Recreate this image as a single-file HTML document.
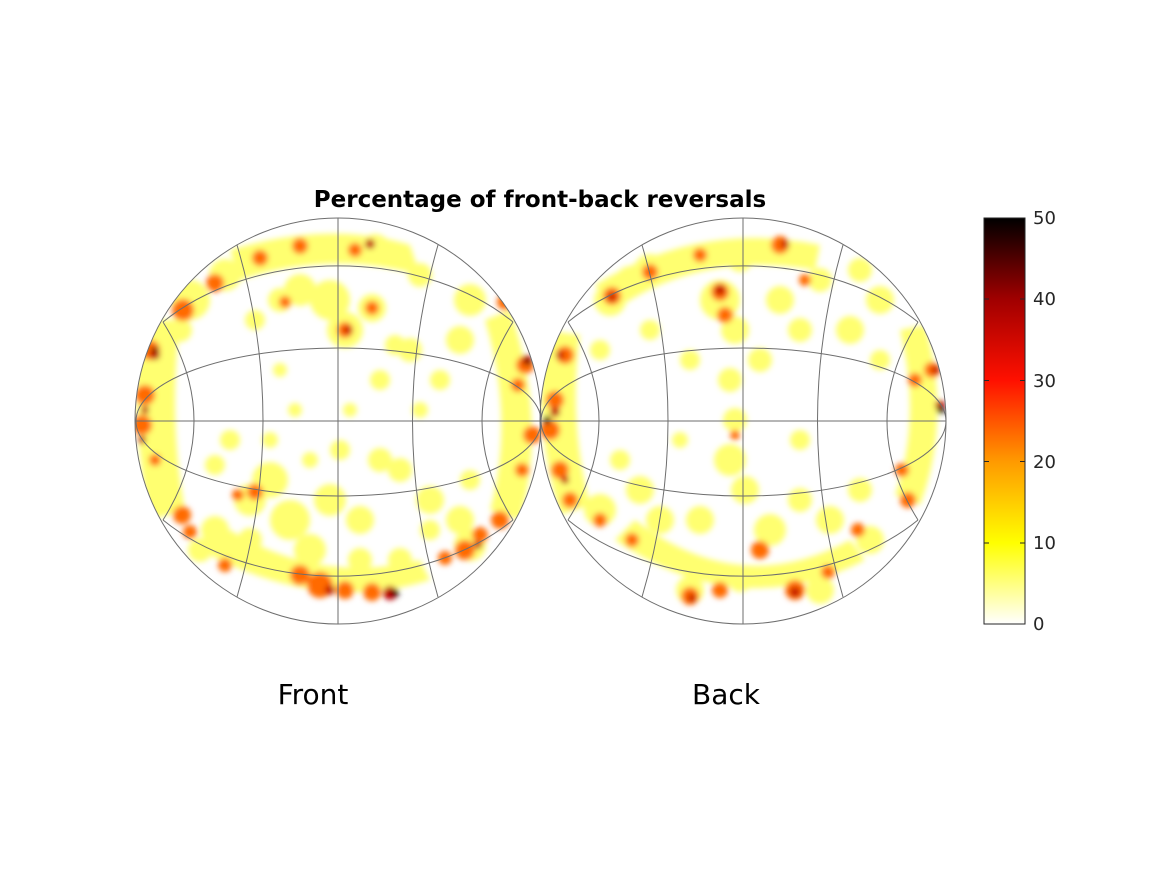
<!DOCTYPE html>
<html><head><style>
html,body{margin:0;padding:0;background:#fff;}
svg{display:block;font-family:"DejaVu Sans","Liberation Sans",sans-serif;}
</style></head><body>
<svg width="1167" height="875" viewBox="0 0 1167 875">
<defs>
<filter id="b" x="-20%" y="-20%" width="140%" height="140%"><feGaussianBlur stdDeviation="3"/></filter>
<clipPath id="cl"><circle cx="338" cy="421" r="203"/></clipPath>
<clipPath id="cr"><circle cx="743" cy="421" r="203"/></clipPath>
<linearGradient id="hot" x1="0" y1="1" x2="0" y2="0">
<stop offset="0" stop-color="#ffffff"/><stop offset="0.2" stop-color="#ffff00"/>
<stop offset="0.4" stop-color="#ff9a00"/><stop offset="0.6" stop-color="#ff1000"/>
<stop offset="0.8" stop-color="#a00000"/><stop offset="1" stop-color="#000000"/>
</linearGradient>
</defs>

<!-- Left heat -->
<g clip-path="url(#cl)" filter="url(#b)">
<g fill="#ffff70">
<path d="M230,250 Q330,220 410,245 L420,275 Q330,250 240,280Z"/>
<path d="M138,320 Q130,420 150,520 L185,510 Q168,420 180,320Z"/>
<path d="M510,310 Q548,420 520,520 L490,510 Q515,420 485,320Z"/>
<path d="M200,550 Q320,615 430,580 L420,560 Q320,585 230,530Z"/>
<circle cx="190" cy="300" r="20"/><circle cx="225" cy="275" r="16"/><circle cx="300" cy="290" r="16"/>
<circle cx="330" cy="300" r="20"/><circle cx="345" cy="330" r="18"/><circle cx="372" cy="308" r="14"/>
<circle cx="395" cy="345" r="10"/><circle cx="380" cy="380" r="10"/><circle cx="410" cy="350" r="12"/>
<circle cx="280" cy="300" r="12"/><circle cx="255" cy="320" r="10"/><circle cx="470" cy="300" r="16"/>
<circle cx="460" cy="340" r="14"/><circle cx="270" cy="480" r="18"/><circle cx="290" cy="520" r="20"/>
<circle cx="310" cy="550" r="16"/><circle cx="330" cy="500" r="16"/><circle cx="360" cy="520" r="14"/>
<circle cx="380" cy="460" r="12"/><circle cx="400" cy="470" r="12"/><circle cx="430" cy="500" r="14"/>
<circle cx="460" cy="520" r="14"/><circle cx="470" cy="545" r="16"/><circle cx="250" cy="500" r="16"/>
<circle cx="215" cy="530" r="14"/><circle cx="200" cy="550" r="12"/><circle cx="230" cy="440" r="10"/>
<circle cx="215" cy="465" r="10"/><circle cx="295" cy="410" r="7"/><circle cx="350" cy="410" r="7"/>
<circle cx="280" cy="370" r="7"/><circle cx="340" cy="450" r="10"/><circle cx="440" cy="380" r="10"/>
<circle cx="375" cy="250" r="16"/><circle cx="420" cy="275" r="12"/><circle cx="470" cy="480" r="10"/>
<circle cx="180" cy="330" r="12"/><circle cx="160" cy="480" r="14"/><circle cx="360" cy="560" r="12"/>
<circle cx="400" cy="560" r="12"/><circle cx="430" cy="530" r="10"/><circle cx="250" cy="540" r="12"/>
<circle cx="270" cy="440" r="8"/><circle cx="310" cy="460" r="8"/><circle cx="420" cy="410" r="8"/>
</g>
<g fill="#ff6a00">
<circle cx="150" cy="350" r="10"/><circle cx="145" cy="395" r="10"/><circle cx="142" cy="425" r="10"/>
<circle cx="183" cy="310" r="11"/><circle cx="215" cy="283" r="9"/><circle cx="260" cy="258" r="8"/>
<circle cx="300" cy="246" r="8"/><circle cx="355" cy="250" r="7"/><circle cx="345" cy="330" r="8"/>
<circle cx="372" cy="308" r="7"/><circle cx="285" cy="302" r="6"/><circle cx="505" cy="302" r="8"/>
<circle cx="525" cy="365" r="9"/><circle cx="518" cy="385" r="7"/><circle cx="532" cy="435" r="9"/>
<circle cx="522" cy="470" r="7"/><circle cx="500" cy="520" r="9"/><circle cx="480" cy="535" r="8"/>
<circle cx="465" cy="550" r="10"/><circle cx="445" cy="558" r="7"/><circle cx="320" cy="585" r="13"/>
<circle cx="345" cy="590" r="9"/><circle cx="372" cy="592" r="9"/><circle cx="300" cy="575" r="10"/>
<circle cx="225" cy="565" r="7"/><circle cx="182" cy="515" r="9"/><circle cx="190" cy="532" r="7"/>
<circle cx="255" cy="492" r="8"/><circle cx="238" cy="495" r="6"/><circle cx="155" cy="460" r="6"/>
</g>
<g fill="#c00000">
<circle cx="155" cy="355" r="5"/><circle cx="142" cy="440" r="4"/><circle cx="370" cy="244" r="5"/>
<circle cx="348" cy="330" r="4"/><circle cx="527" cy="360" r="5"/>
<circle cx="478" cy="545" r="4"/><circle cx="390" cy="593" r="7"/><circle cx="330" cy="590" r="5"/>
<circle cx="145" cy="410" r="4"/>
</g>
<g fill="#200000"><circle cx="395" cy="593" r="4"/><circle cx="528" cy="362" r="3"/><circle cx="155" cy="350" r="3"/></g>
</g>

<!-- Right heat -->
<g clip-path="url(#cr)" filter="url(#b)">
<g fill="#ffff70">
<path d="M595,285 Q700,220 820,245 L815,270 Q700,250 615,310Z"/>
<path d="M545,330 Q532,420 560,515 L590,505 Q568,420 580,335Z"/>
<path d="M925,325 Q952,420 920,505 L895,495 Q922,420 900,330Z"/>
<path d="M615,540 Q740,625 865,560 L850,540 Q740,600 635,520Z"/>
<circle cx="720" cy="300" r="20"/><circle cx="735" cy="330" r="14"/><circle cx="650" cy="270" r="16"/>
<circle cx="610" cy="300" r="16"/><circle cx="630" cy="280" r="14"/><circle cx="780" cy="300" r="14"/>
<circle cx="800" cy="330" r="12"/><circle cx="760" cy="360" r="12"/><circle cx="730" cy="380" r="12"/>
<circle cx="735" cy="420" r="12"/><circle cx="730" cy="460" r="16"/><circle cx="745" cy="490" r="14"/>
<circle cx="700" cy="520" r="14"/><circle cx="770" cy="530" r="16"/><circle cx="800" cy="500" r="12"/>
<circle cx="830" cy="520" r="14"/><circle cx="860" cy="490" r="12"/><circle cx="870" cy="540" r="14"/>
<circle cx="600" cy="510" r="16"/><circle cx="640" cy="490" r="14"/><circle cx="660" cy="520" r="14"/>
<circle cx="620" cy="460" r="10"/><circle cx="850" cy="330" r="14"/><circle cx="880" cy="300" r="14"/>
<circle cx="860" cy="270" r="12"/><circle cx="820" cy="280" r="12"/><circle cx="650" cy="330" r="10"/>
<circle cx="690" cy="360" r="10"/><circle cx="800" cy="440" r="10"/><circle cx="680" cy="440" r="8"/>
<circle cx="820" cy="590" r="14"/><circle cx="690" cy="590" r="14"/><circle cx="740" cy="580" r="12"/>
<circle cx="600" cy="350" r="10"/><circle cx="880" cy="360" r="10"/><circle cx="740" cy="260" r="12"/>
</g>
<g fill="#ff6a00">
<circle cx="700" cy="255" r="7"/><circle cx="780" cy="245" r="9"/><circle cx="650" cy="272" r="8"/>
<circle cx="612" cy="296" r="9"/><circle cx="720" cy="292" r="9"/><circle cx="725" cy="315" r="8"/>
<circle cx="565" cy="355" r="9"/><circle cx="555" cy="400" r="9"/><circle cx="550" cy="430" r="10"/>
<circle cx="560" cy="470" r="9"/><circle cx="570" cy="500" r="8"/><circle cx="932" cy="370" r="8"/>
<circle cx="915" cy="380" r="7"/><circle cx="902" cy="470" r="7"/><circle cx="908" cy="500" r="8"/>
<circle cx="858" cy="530" r="7"/><circle cx="690" cy="596" r="9"/><circle cx="720" cy="590" r="8"/>
<circle cx="760" cy="550" r="9"/><circle cx="795" cy="590" r="10"/><circle cx="828" cy="572" r="7"/>
<circle cx="600" cy="520" r="7"/><circle cx="632" cy="540" r="7"/><circle cx="735" cy="435" r="5"/>
<circle cx="805" cy="280" r="6"/>
</g>
<g fill="#c00000">
<circle cx="560" cy="355" r="4"/><circle cx="555" cy="412" r="5"/><circle cx="565" cy="480" r="4"/>
<circle cx="720" cy="290" r="5"/><circle cx="785" cy="244" r="4"/><circle cx="936" cy="370" r="4"/>
<circle cx="940" cy="405" r="5"/><circle cx="795" cy="592" r="5"/><circle cx="692" cy="598" r="4"/>
<circle cx="612" cy="297" r="4"/>
</g>
<g fill="#200000"><circle cx="547" cy="420" r="4"/><circle cx="941" cy="410" r="4"/></g>
</g>

<!-- Grid lines -->
<g fill="none" stroke="#6e6e6e" stroke-width="1">
<g id="grid">
<circle cx="338" cy="421" r="203"/>
<line x1="136" y1="421" x2="541" y2="421"/>
<line x1="338" y1="218" x2="338" y2="624"/>
<path d="M136,421 A202.5,73 0 0 1 541,421"/>
<path d="M136,421 A202.5,75 0 0 0 541,421"/>
<path d="M163,322 A230,160 0 0 1 513,322"/>
<path d="M163,520 A230,160 0 0 0 513,520"/>
<path d="M237,245 Q289,421 237,597"/>
<path d="M438,245 Q387,421 438,597"/>
<path d="M163,322 Q225,421 163,520"/>
<path d="M513,322 Q451,421 513,520"/>
</g>
<use href="#grid" transform="translate(405,0)"/>
</g>

<!-- Title -->
<text x="540" y="207" font-size="23" font-weight="bold" text-anchor="middle" fill="#000">Percentage of front-back reversals</text>
<text x="313" y="704" font-size="28" text-anchor="middle" fill="#000">Front</text>
<text x="726" y="704" font-size="28" text-anchor="middle" fill="#000">Back</text>

<!-- Colorbar -->
<rect x="984" y="218" width="41" height="406" fill="url(#hot)" stroke="#262626" stroke-width="1"/>
<g stroke="#262626" stroke-width="1">
<line x1="1020" y1="299" x2="1025" y2="299"/><line x1="1020" y1="380.5" x2="1025" y2="380.5"/>
<line x1="1020" y1="461.5" x2="1025" y2="461.5"/><line x1="1020" y1="543" x2="1025" y2="543"/>
<line x1="984" y1="299" x2="989" y2="299"/><line x1="984" y1="380.5" x2="989" y2="380.5"/>
<line x1="984" y1="461.5" x2="989" y2="461.5"/><line x1="984" y1="543" x2="989" y2="543"/>
</g>
<g font-size="18" fill="#262626">
<text x="1033" y="224">50</text><text x="1033" y="305">40</text><text x="1033" y="387">30</text>
<text x="1033" y="468">20</text><text x="1033" y="549">10</text><text x="1033" y="630">0</text>
</g>
</svg>
</body></html>
